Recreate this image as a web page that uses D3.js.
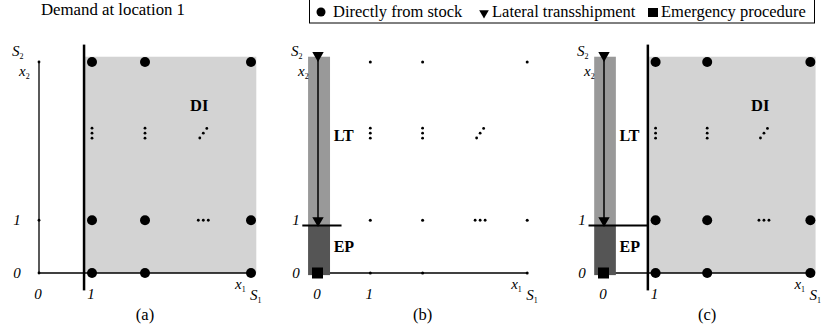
<!DOCTYPE html>
<html>
<head>
<meta charset="utf-8">
<script src="https://cdn.jsdelivr.net/npm/d3@7"></script>
<style>
  body { margin: 0; background: #fff; }
  svg { display: block; }
  svg text { font-family: "Liberation Serif", "Times New Roman", serif; }
</style>
</head>
<body>
<div id="chart"></div>
<script>
const SVG_WIDTH = 826;
const SVG_HEIGHT = 333;

// panels and what each one shows
const panelLabels = ["(a)", "(b)", "(c)"];
const panelHasDI = [true, false, true];
const panelHasLT = [false, true, true];
const panelBigDots = [true, false, true];

// schematic grid (levels on each axis; 4 stands for S1 / S2)
const colLevels = [1, 2, 4];
const rowLevels = [0, 1, 4];
const xTickLabels = ["0", "1"];
const yTickLabels = ["0", "1"];
const vDotsCols = [1, 2];
const vDotsRow = 2.65;
const diagCol = 3.1;
const hDotsCol = 3.1;
const hDotsRow = 1;
const diStart = 0.85;   // left edge of the DI region (x level)
const epTop = 0.9;      // boundary between LT and EP (y level)

const legendItems = ["Directly from stock", "Lateral transshipment", "Emergency procedure"];

// layout
const ORIGINS = [39, 318, 604];
const UNITS = [53, 52.3, 51.6];
const Y0 = 273, Y_UNIT = 52.75;
const FONT = "'Liberation Serif', 'Times New Roman', serif";

const svg = d3.select("#chart").append("svg")
    .attr("width", SVG_WIDTH)
    .attr("height", SVG_HEIGHT)
    .attr("font-family", FONT);

const y = d3.scaleLinear().domain([0, 4]).range([Y0, Y0 - 4 * Y_UNIT]);

svg.append("text")
    .attr("x", 41).attr("y", 15)
    .attr("font-size", 16.8)
    .text("Demand at location 1");

// legend
const legend = svg.append("g");
legend.append("rect")
    .attr("x", 309.5).attr("y", -1)
    .attr("width", 505).attr("height", 24)
    .attr("fill", "#fff").attr("stroke", "#000").attr("stroke-width", 1);
const legendX = [321, 484, 653];
legend.append("circle").attr("cx", legendX[0]).attr("cy", 12).attr("r", 4.5);
legend.append("path").attr("d", d3.symbol(d3.symbolTriangle, 40)())
    .attr("transform", `translate(${legendX[1]},13) rotate(180)`);
legend.append("rect").attr("x", legendX[2] - 5).attr("y", 8).attr("width", 10).attr("height", 9);
legend.selectAll("text.leg")
    .data(legendItems)
    .enter().append("text")
    .attr("class", "leg")
    .attr("x", (d, i) => legendX[i] + (i === 2 ? 8 : 12) + (i === 1 ? -4 : 0))
    .attr("y", 17)
    .attr("font-size", 16.5)
    .text(d => d);

const italicLabel = (g, x, yy, main, sub, anchor) => {
    const t = g.append("text")
        .attr("x", x).attr("y", yy)
        .attr("font-size", 15)
        .attr("font-style", "italic")
        .attr("text-anchor", anchor || "start");
    t.append("tspan").text(main);
    if (sub) t.append("tspan").attr("font-size", 8).attr("font-style", "normal").attr("dy", 3).text(sub);
};

const dotGroup = (g, pts, r) => {
    g.selectAll(null).data(pts).enter().append("circle")
        .attr("cx", d => d[0]).attr("cy", d => d[1]).attr("r", r).attr("fill", "#000");
};

panelLabels.forEach((label, p) => {
    const g = svg.append("g");
    const x = d3.scaleLinear().domain([0, 4]).range([ORIGINS[p], ORIGINS[p] + 4 * UNITS[p]]);

    // DI region
    if (panelHasDI[p]) {
        g.append("rect")
            .attr("x", x(diStart)).attr("y", y(4.1))
            .attr("width", x(4.1) - x(diStart)).attr("height", y(0) - y(4.1))
            .attr("fill", "#d3d3d3");
    }

    // axes
    if (!panelHasLT[p]) {
        g.append("line")
            .attr("x1", x(0)).attr("x2", x(0)).attr("y1", y(0)).attr("y2", y(4))
            .attr("stroke", "#000").attr("stroke-width", 1.3);
        dotGroup(g, rowLevels.map(r => [x(0), y(r)]), 1.4);
    }
    g.append("line")
        .attr("x1", x(0)).attr("x2", x(4)).attr("y1", y(0)).attr("y2", y(0))
        .attr("stroke", "#000").attr("stroke-width", 1.3);

    // LT / EP column
    if (panelHasLT[p]) {
        g.append("rect")
            .attr("x", x(-0.19)).attr("y", y(4.1))
            .attr("width", x(0.23) - x(-0.19)).attr("height", y(epTop) - y(4.1))
            .attr("fill", "#999");
        g.append("rect")
            .attr("x", x(-0.19)).attr("y", y(epTop))
            .attr("width", x(0.23) - x(-0.19)).attr("height", y(-0.04) - y(epTop))
            .attr("fill", "#555");
        g.append("line")
            .attr("x1", x(0)).attr("x2", x(0)).attr("y1", y(4.05)).attr("y2", y(epTop) - 4)
            .attr("stroke", "#000").attr("stroke-width", 1.5);
        [4.05, epTop + 0.02].forEach(lv => {
            g.append("path")
                .attr("d", d3.symbol(d3.symbolTriangle, 56)())
                .attr("transform", `translate(${x(0)},${y(lv) - 4}) rotate(180)`);
        });
        g.append("line")
            .attr("x1", x(-0.3)).attr("x2", x(panelHasDI[p] ? diStart : 0.45))
            .attr("y1", y(epTop)).attr("y2", y(epTop))
            .attr("stroke", "#000").attr("stroke-width", 2);
        g.append("rect")
            .attr("x", x(0) - 6).attr("y", y(0) - 5.5)
            .attr("width", 11).attr("height", 11);
        g.append("text").attr("x", x(0.3)).attr("y", y(2.5))
            .attr("font-size", 16).attr("font-weight", "bold").text("LT");
        g.append("text").attr("x", x(0.3)).attr("y", y(0.4))
            .attr("font-size", 16).attr("font-weight", "bold").text("EP");
    }

    // DI boundary
    if (panelHasDI[p]) {
        g.append("line")
            .attr("x1", x(diStart)).attr("x2", x(diStart))
            .attr("y1", y(-0.33)).attr("y2", y(4.33))
            .attr("stroke", "#000").attr("stroke-width", 2.5);
        g.append("text").attr("x", x(2.85)).attr("y", y(3.07))
            .attr("font-size", 16.5).attr("font-weight", "bold").text("DI");
    }

    // grid points
    const pts = [];
    rowLevels.forEach(r => colLevels.forEach(c => pts.push([x(c), y(r)])));
    dotGroup(g, pts, panelBigDots[p] ? 5 : 1.5);

    // ellipses
    vDotsCols.forEach(c => dotGroup(g, [-5, 0, 5].map(o => [x(c), y(vDotsRow) + o]), 1.4));
    dotGroup(g, [-1, 0, 1].map(o => [x(diagCol) + o * 3.5, y(vDotsRow) - o * 4.8]), 1.4);
    dotGroup(g, [-1, 0, 1].map(o => [x(hDotsCol) + o * 5, y(hDotsRow)]), 1.4);

    // tick labels
    yTickLabels.forEach((t, i) => italicLabel(g, x(0) - 22, y(i) + 5, t, null, "middle"));
    xTickLabels.forEach((t, i) => italicLabel(g, x(i) - 1, 299, t, null, "middle"));
    italicLabel(g, x(0) - 27, y(4) - 6, "S", "2");
    italicLabel(g, x(0) - 20, y(4) + 14, "x", "2");
    italicLabel(g, x(4) - 16, 289, "x", "1");
    italicLabel(g, x(4) - 1, 300, "S", "1");

    g.append("text")
        .attr("x", x(2)).attr("y", 320)
        .attr("text-anchor", "middle")
        .attr("font-size", 16.5)
        .text(label);
});
</script>
</body>
</html>
